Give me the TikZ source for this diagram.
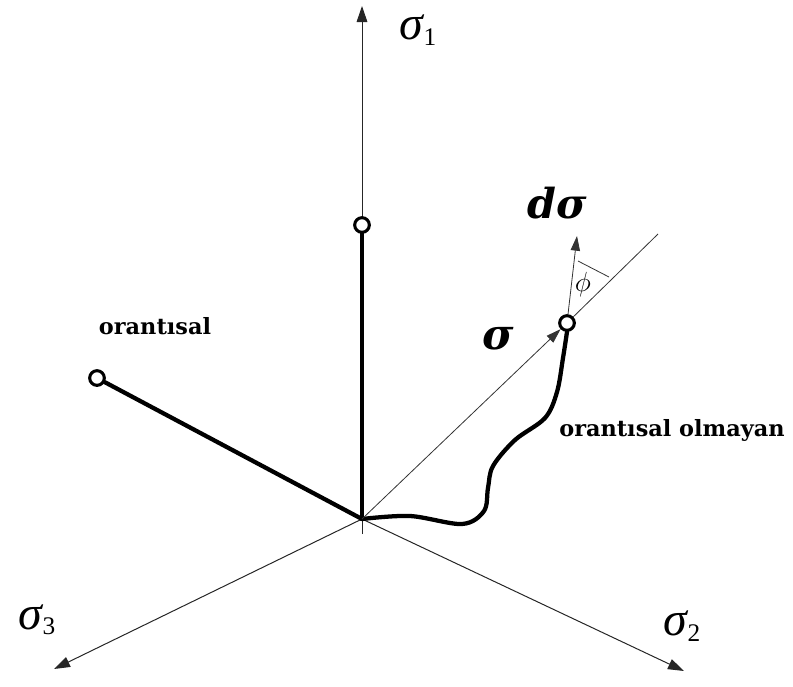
\documentclass[tikz,border=0pt]{standalone}
\usepackage{fontspec}
\setmainfont{Liberation Serif}
\newfontfamily\dvs{DejaVu Serif}
\usetikzlibrary{arrows.meta}
\newcommand{\sgax}[1]{{\fontsize{36}{36}\selectfont\itshape σ}\raisebox{-0.4em}{\fontsize{19}{19}\selectfont #1}}
\begin{document}
\begin{tikzpicture}[x=0.75pt,y=-0.75pt,
  axis/.style={line width=0.75pt, draw=black!85, -{Triangle[length=12pt,width=8pt]}},
  thinline/.style={line width=0.6pt, draw=black!80},
  heavy/.style={line width=3.2pt, line cap=round, line join=round},
  pt/.style={circle, draw, line width=2.3pt, fill=white, minimum size=11pt, inner sep=0pt},
  lbl/.style={font=\dvs\fontsize{16.8}{16.8}\selectfont\bfseries, inner sep=0pt}]
\useasboundingbox (0,0) rectangle (793,686);
\coordinate (O) at (362,519);
\coordinate (t1) at (362,6);
\coordinate (t2) at (684,671);
\coordinate (t3) at (54,669);
\coordinate (Ob) at (362,534);
\coordinate (dE) at (658,234);
\coordinate (dT) at (577,236);
\coordinate (m1) at (578,261);
\coordinate (m2) at (609,277);
% axes
\draw[axis] (Ob) -- (t1);
\draw[axis] (O) -- (t2);
\draw[axis] (O) -- (t3);
% thick paths
\node[pt] (top) at (362,225) {};
\node[pt] (left) at (97,378) {};
\node[pt] (P) at (567,323) {};
\draw[heavy] (O) -- (top);
\draw[heavy] (O) -- (left);
\draw[heavy] plot[smooth, tension=0.55] coordinates {(O) (410,516) (462,524) (484,511) (488,488) (493,466) (515,440) (545,418) (557,392) (563,358) (P.south)};
% sigma vector and dsigma
\draw[thinline, -{Triangle[length=11pt,width=7pt]}] (O) -- (P);
\draw[thinline] (P) -- (dE);
\draw[thinline, -{Triangle[length=11pt,width=7pt]}] (P) -- (dT);
\draw[thinline] (m1) -- (m2);
% labels
\node[inner sep=0pt] (s1) at (418,30) {\sgax{1}};
\node[inner sep=0pt] (s2) at (682,626) {\sgax{2}};
\node[inner sep=0pt] (s3) at (37,620) {\sgax{3}};
\node[lbl] (or) at (155,326) {orantısal};
\node[lbl] (orm) at (672,430) {orantısal olmayan};
\node[inner sep=0pt, font=\dvs\fontsize{31}{31}\selectfont\bfseries\itshape] (ds) at (557,203) {dσ};
\node[inner sep=0pt, font=\dvs\fontsize{32}{32}\selectfont\bfseries\itshape] (sv) at (498,339) {σ};
\node[inner sep=0pt, font=\fontsize{20}{20}\selectfont] (ph) at (583,285) {$\phi$};
\end{tikzpicture}
\end{document}
